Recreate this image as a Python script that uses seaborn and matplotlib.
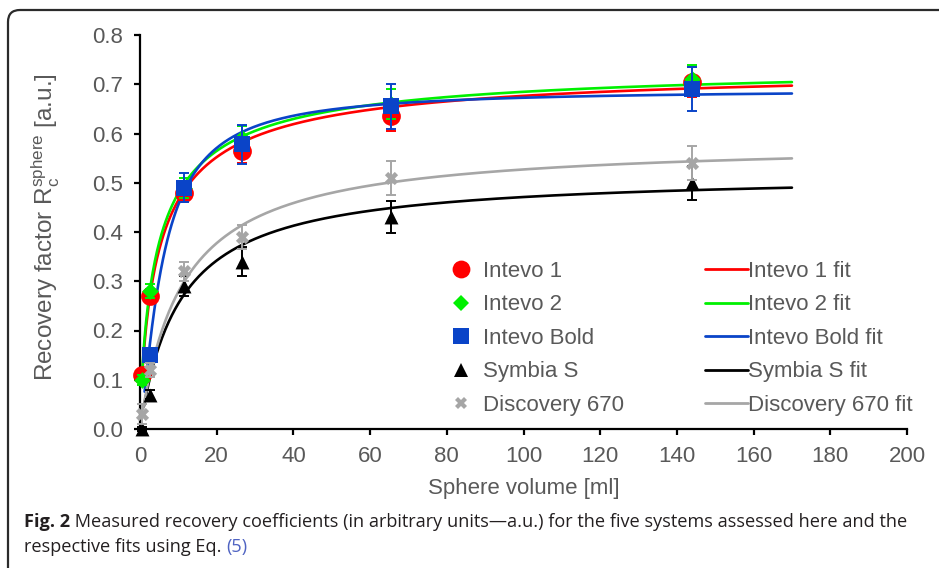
import numpy as np
import pandas as pd
import matplotlib
matplotlib.use("Agg")
import matplotlib.pyplot as plt
import seaborn as sns
from matplotlib.lines import Line2D
from matplotlib.patches import FancyBboxPatch

# ---- measured recovery coefficients -------------------------------------
sphere_volume = [0.5, 2.6, 11.5, 26.5, 65.5, 144.0]   # ml

systems = ["Intevo 1", "Intevo 2", "Intevo Bold", "Symbia S", "Discovery 670"]

rc_intevo1 = [0.11, 0.27, 0.48, 0.565, 0.635, 0.705]
rc_intevo2 = [0.10, 0.28, 0.49, 0.590, 0.660, 0.710]
rc_intevo_bold = [np.nan, 0.15, 0.49, 0.578, 0.655, 0.690]
rc_symbia_s = [0.00, 0.07, 0.29, 0.340, 0.430, 0.500]
rc_discovery = [0.03, 0.12, 0.32, 0.390, 0.510, 0.540]

err_intevo1 = [0.010, 0.015, 0.020, 0.025, 0.030, 0.030]
err_intevo2 = [0.010, 0.015, 0.020, 0.025, 0.030, 0.030]
err_intevo_bold = [np.nan, 0.015, 0.030, 0.040, 0.045, 0.045]
err_symbia_s = [0.005, 0.010, 0.020, 0.030, 0.033, 0.035]
err_discovery = [0.020, 0.015, 0.020, 0.025, 0.035, 0.035]

# fit parameters of Eq. (5): R(V) = a / (1 + (b / V) ** c)
fit_a = [0.740, 0.745, 0.690, 0.520, 0.585]
fit_b = [5.2, 4.8, 6.0, 10.4, 11.0]
fit_c = [0.8, 0.8, 1.3, 1.0, 1.0]
fit_start = [0.5, 0.5, 1.2, 1.0, 0.8]
fit_end = 170.0

x_ticks = [0, 20, 40, 60, 80, 100, 120, 140, 160, 180, 200]
y_ticks = [0.0, 0.1, 0.2, 0.3, 0.4, 0.5, 0.6, 0.7, 0.8]

# ---- styling ---------------------------------------------------------------
colors = ["#FF0000", "#00F000", "#0A44C8", "#000000", "#A6A6A6"]
markers = ["o", "D", "s", "^", "X"]
msizes = [13.5, 8.5, 11.5, 10, 9.5]
text_grey = "#595959"

sns.set_style("ticks")
plt.rcParams["font.family"] = ["Liberation Sans", "DejaVu Sans"]
plt.rcParams["mathtext.fontset"] = "custom"
plt.rcParams["mathtext.rm"] = "Liberation Sans"

W, H = 939, 568
fig = plt.figure(figsize=(W / 100, H / 100), dpi=100)
fig.patch.set_facecolor("white")

# rounded frame around figure + caption
frame = FancyBboxPatch((8, -40), 1000, H - 10 + 40,
                       boxstyle="round,pad=0,rounding_size=12",
                       transform=None, facecolor="none",
                       edgecolor="#2b2b2b", linewidth=1.6, zorder=0)
fig.patches.append(frame)

ax = fig.add_axes([140 / W, 1 - 429 / H, 767 / W, 394 / H])

values = [rc_intevo1, rc_intevo2, rc_intevo_bold, rc_symbia_s, rc_discovery]
errors = [err_intevo1, err_intevo2, err_intevo_bold, err_symbia_s, err_discovery]

rows = []
for name, vals, errs in zip(systems, values, errors):
    for v, r, e in zip(sphere_volume, vals, errs):
        rows.append({"system": name, "volume": v, "rc": r, "err": e})
meas = pd.DataFrame(rows).dropna()

fit_rows = []
for name, a, b, c, v0 in zip(systems, fit_a, fit_b, fit_c, fit_start):
    for v in np.linspace(v0, fit_end, 600):
        fit_rows.append({"system": name, "volume": v, "rc": a / (1 + (b / v) ** c)})
fits = pd.DataFrame(fit_rows)

# fitted curves
for i, name in enumerate(systems):
    sub = fits[fits["system"] == name]
    sns.lineplot(data=sub, x="volume", y="rc", ax=ax, color=colors[i],
                 linewidth=1.9, zorder=2 + i * 0.01, legend=False)

# measured points with error bars
for i, name in enumerate(systems):
    sub = meas[meas["system"] == name]
    ax.errorbar(sub["volume"], sub["rc"], yerr=sub["err"], fmt="none",
                ecolor=colors[i], elinewidth=1.4, capsize=3.5, capthick=1.4,
                zorder=3 + i * 0.1, clip_on=False)
    sns.scatterplot(data=sub, x="volume", y="rc", ax=ax, marker=markers[i],
                    s=msizes[i] ** 2, color=colors[i], edgecolor=colors[i],
                    linewidth=0, zorder=3.05 + i * 0.1, clip_on=False,
                    legend=False)

ax.set_xlim(0, 200)
ax.set_ylim(0, 0.8)
ax.set_xticks(x_ticks)
ax.set_yticks(y_ticks)
ax.set_xticklabels([str(t) for t in x_ticks])
ax.set_yticklabels([f"{t:.1f}" for t in y_ticks])
for side in ["top", "right"]:
    ax.spines[side].set_visible(False)
for side in ["left", "bottom"]:
    ax.spines[side].set_linewidth(1.6)
    ax.spines[side].set_color("black")
ax.tick_params(axis="both", direction="out", length=4, width=1.6,
               color="black", labelcolor=text_grey, labelsize=16)
ax.tick_params(axis="x", pad=8)
ax.tick_params(axis="y", pad=8)

ax.set_xlabel("Sphere volume [ml]", fontsize=16, color=text_grey)
ax.set_ylabel(r"Recovery factor R$_\mathregular{c}^\mathregular{sphere}$ [a.u.]",
              fontsize=17.5, color=text_grey)
ax.xaxis.set_label_coords(0.5, -0.125)
ax.yaxis.set_label_coords(-0.102, 0.513)

# legends: markers and fit lines
marker_handles = [Line2D([], [], linestyle="none", marker=markers[i],
                         markersize=msizes[i] * 0.95, color=colors[i],
                         markeredgewidth=0) for i in range(5)]
line_handles = [Line2D([], [], color=colors[i], linewidth=2.0) for i in range(5)]

leg_top = 1 - 261 / H
leg1 = ax.legend(marker_handles, systems, loc="upper left",
                 bbox_to_anchor=(450 / W, leg_top),
                 bbox_transform=fig.transFigure, frameon=False, fontsize=16,
                 handlelength=1.0, handletextpad=0.5, borderpad=0,
                 borderaxespad=0, labelspacing=0.56, labelcolor=text_grey)
ax.add_artist(leg1)
ax.legend(line_handles, [s + " fit" for s in systems], loc="upper left",
          bbox_to_anchor=(705 / W, leg_top),
          bbox_transform=fig.transFigure, frameon=False, fontsize=16,
          handlelength=1.95, handletextpad=0.0, borderpad=0,
          borderaxespad=0, labelspacing=0.56, labelcolor=text_grey)

# caption
cap_color = "#231f20"
cap_font = ["Open Sans", "DejaVu Sans"]
line1_rest = (" Measured recovery coefficients (in arbitrary units\u2014a.u.) "
              "for the five systems assessed here and the")
line2 = "respective fits using Eq. "
ref = "(5)"

fig.canvas.draw()
renderer = fig.canvas.get_renderer()
size = 12.0
probe_a = fig.text(0, 0, "Fig. 2", fontsize=size, fontweight="bold", family=cap_font)
probe_b = fig.text(0, 0, line1_rest, fontsize=size, family=cap_font)
wtot = probe_a.get_window_extent(renderer).width + probe_b.get_window_extent(renderer).width
probe_a.remove()
probe_b.remove()
size = size * (903 - 24) / wtot

y1 = 1 - 522 / H
y2 = 1 - 547 / H
t = fig.text(24 / W, y1, "Fig. 2", fontsize=size, fontweight="bold",
             family=cap_font, color=cap_color, va="center")
x_next = t.get_window_extent(renderer).x1 / W
fig.text(x_next, y1, line1_rest, fontsize=size, family=cap_font,
         color=cap_color, va="center")
t2 = fig.text(24 / W, y2, line2, fontsize=size, family=cap_font,
              color=cap_color, va="center")
x_ref = t2.get_window_extent(renderer).x1 / W
fig.text(x_ref, y2, ref, fontsize=size, family=cap_font, color="#4f63c2",
         va="center")

fig.savefig("out.png", dpi=100, facecolor="white")
